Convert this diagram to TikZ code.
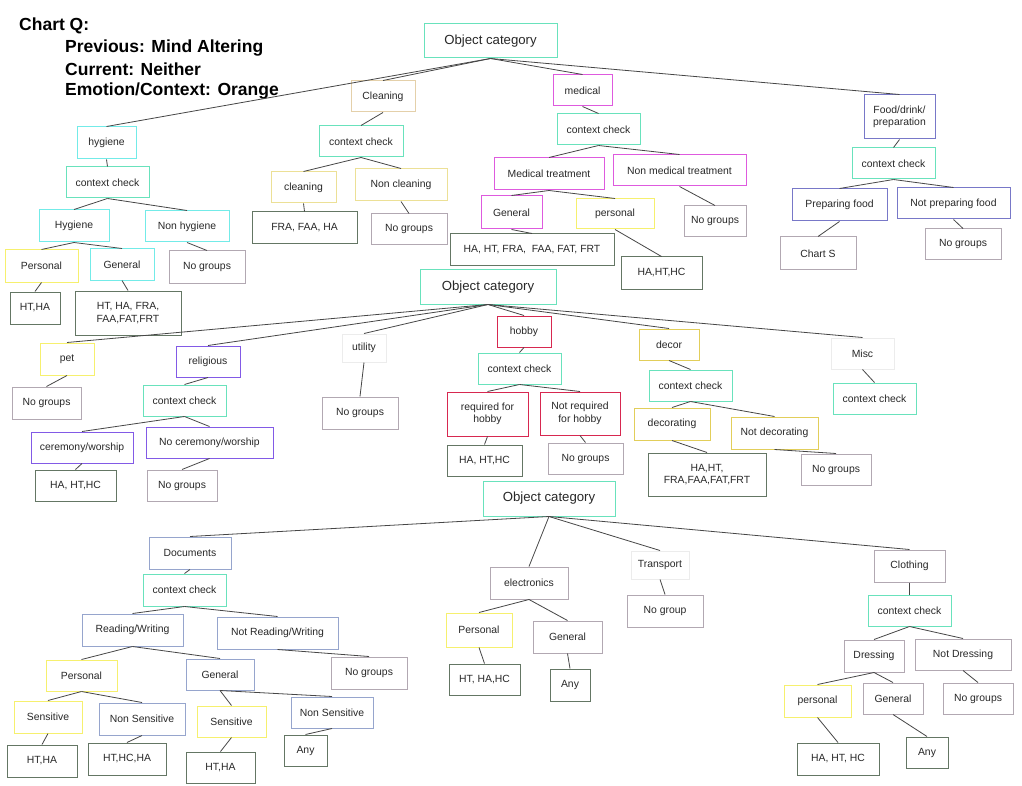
\documentclass[tikz,border=0pt]{standalone}
\usepackage{fontspec}
\setmainfont{Liberation Sans}[BoldFont={Liberation Sans Bold}]
\definecolor{caq}{RGB}{105,226,188}
\definecolor{ccy}{RGB}{115,235,232}
\definecolor{cye}{RGB}{246,240,110}
\definecolor{ctan}{RGB}{228,208,170}
\definecolor{clt}{RGB}{236,224,150}
\definecolor{cmg}{RGB}{222,90,222}
\definecolor{csb}{RGB}{120,120,200}
\definecolor{cgr}{RGB}{178,168,178}
\definecolor{crs}{RGB}{100,118,100}
\definecolor{cpu}{RGB}{130,90,230}
\definecolor{crd}{RGB}{215,40,80}
\definecolor{cgd}{RGB}{226,206,90}
\definecolor{cgb}{RGB}{150,165,205}
\definecolor{cvl}{RGB}{236,236,236}
\definecolor{ctx}{RGB}{40,40,40}
\definecolor{cln}{RGB}{70,70,70}
\newcommand\mybox[7]{\node[bx,#6,minimum width={#4-#2},minimum height={#5-#3}] (#1) at ({(#2+#4)/2},{(#3+#5)/2}) {#7};}
\tikzset{
  bx/.style={draw,line width=1pt,rectangle,inner sep=1pt,align=center,text=ctx,font=\fontsize{10.4}{12.5}\selectfont,fill=white},
  aq/.style={draw=caq},cy/.style={draw=ccy},ye/.style={draw=cye},tn/.style={draw=ctan},
  lt/.style={draw=clt},mg/.style={draw=cmg},sb/.style={draw=csb},gr/.style={draw=cgr},
  rs/.style={draw=crs},pu/.style={draw=cpu},rd/.style={draw=crd},gd/.style={draw=cgd},
  gb/.style={draw=cgb},vl/.style={draw=cvl},
  big/.style={font=\fontsize{13.2}{15}\selectfont},
  edge/.style={draw=cln,line width=0.8pt},
  ttl/.style={anchor=west,inner sep=0pt,font=\bfseries\fontsize{17.5}{20}\selectfont,text=black}
}
\begin{document}
\begin{tikzpicture}[x=1pt,y=-1pt]
\useasboundingbox[fill=white] (0,0) rectangle (1022,786);
% title
\node[ttl] (t0) at (19,26) {Chart Q:};
\node[ttl] (t1) at (65,48) {Previous: Mind Altering};
\node[ttl] (t2) at (65,69) {Current: Neither};
\node[ttl] (t3) at (65,91) {Emotion/Context: Orange};
% ---------- chart 1 ----------
\mybox{oc1}{424}{24}{557}{58}{aq,big}{Object category}
\mybox{hyg}{77}{127}{136}{159}{cy}{hygiene}
\mybox{cc1}{66}{167}{149}{198}{aq}{context check}
\mybox{Hyg}{39}{210}{109}{242}{cy}{Hygiene}
\mybox{nhyg}{145}{211}{229}{242}{cy}{Non hygiene}
\mybox{pers1}{5}{250}{78}{282}{ye}{Personal}
\mybox{gen1}{90}{249}{154}{280}{cy}{General}
\mybox{ng1}{169}{251}{245}{283}{gr}{No groups}
\mybox{r1}{10}{292}{60}{324}{rs}{HT,HA}
\mybox{r2}{75}{291}{181}{335}{rs}{HT, HA, FRA,\\FAA,FAT,FRT}
\mybox{clg}{351}{81}{415}{112}{tn}{Cleaning}
\mybox{cc2}{319}{126}{403}{157}{aq}{context check}
\mybox{clg2}{271}{172}{336}{203}{lt}{cleaning}
\mybox{nclg}{355}{169}{447}{201}{lt}{Non cleaning}
\mybox{r3}{252}{212}{357}{244}{rs}{FRA, FAA, HA}
\mybox{ng2}{371}{214}{447}{245}{gr}{No groups}
\mybox{med}{553}{75}{612}{106}{mg}{medical}
\mybox{cc3}{557}{114}{640}{145}{aq}{context check}
\mybox{mt}{494}{158}{604}{190}{mg}{Medical treatment}
\mybox{nmt}{613}{155}{746}{186}{mg}{Non medical treatment}
\mybox{gen2}{481}{196}{542}{229}{mg}{General}
\mybox{pers2}{576}{199}{654}{229}{ye}{personal}
\mybox{ng3}{684}{206}{746}{237}{gr}{No groups}
\mybox{r4}{450}{234}{614}{266}{rs}{HA, HT, FRA,\ \ FAA, FAT, FRT}
\mybox{r5}{621}{257}{702}{289}{rs}{HA,HT,HC}
\mybox{food}{864}{95}{935}{139}{sb}{Food/drink/\\preparation}
\mybox{cc4}{852}{148}{935}{179}{aq}{context check}
\mybox{pf}{792}{189}{887}{221}{sb}{Preparing food}
\mybox{npf}{897}{188}{1010}{219}{sb}{Not preparing food}
\mybox{chs}{780}{237}{856}{270}{gr}{Chart S}
\mybox{ng4}{925}{229}{1001}{260}{gr}{No groups}
% edges chart 1
\draw[edge] (oc1.south) -- (hyg.north);
\draw[edge] (oc1.south) -- (clg.north);
\draw[edge] (oc1.south) -- (med.north);
\draw[edge] (oc1.south) -- (food.north);
\draw[edge] (hyg.south) -- (cc1.north);
\draw[edge] (cc1.south) -- (Hyg.north);
\draw[edge] (cc1.south) -- (nhyg.north);
\draw[edge] (Hyg.south) -- (pers1.north);
\draw[edge] (Hyg.south) -- (gen1.north);
\draw[edge] (nhyg.south) -- (ng1.north);
\draw[edge] (pers1.south) -- (r1.north);
\draw[edge] (gen1.south) -- (r2.north);
\draw[edge] (clg.south) -- (cc2.north);
\draw[edge] (cc2.south) -- (clg2.north);
\draw[edge] (cc2.south) -- (nclg.north);
\draw[edge] (clg2.south) -- (r3.north);
\draw[edge] (nclg.south) -- (ng2.north);
\draw[edge] (med.south) -- (cc3.north);
\draw[edge] (cc3.south) -- (mt.north);
\draw[edge] (cc3.south) -- (nmt.north);
\draw[edge] (mt.south) -- (gen2.north);
\draw[edge] (mt.south) -- (pers2.north);
\draw[edge] (gen2.south) -- (r4.north);
\draw[edge] (pers2.south) -- (r5.north);
\draw[edge] (nmt.south) -- (ng3.north);
\draw[edge] (food.south) -- (cc4.north);
\draw[edge] (cc4.south) -- (pf.north);
\draw[edge] (cc4.south) -- (npf.north);
\draw[edge] (pf.south) -- (chs.north);
\draw[edge] (npf.south) -- (ng4.north);
% ---------- chart 2 ----------
\mybox{oc2}{420}{270}{556}{304}{aq,big}{Object category}
\mybox{pet}{40}{343}{94}{375}{ye}{pet}
\mybox{ng5}{12}{387}{81}{419}{gr}{No groups}
\mybox{rel}{176}{346}{240}{377}{pu}{religious}
\mybox{cc5}{143}{385}{226}{416}{aq}{context check}
\mybox{cer}{31}{432}{133}{463}{pu}{ceremony/worship}
\mybox{ncer}{146}{427}{273}{458}{pu}{No ceremony/worship}
\mybox{r6}{35}{470}{116}{501}{rs}{HA, HT,HC}
\mybox{ng6}{147}{470}{217}{501}{gr}{No groups}
\mybox{uti}{342}{334}{386}{362}{vl}{utility}
\mybox{ng7}{322}{397}{398}{429}{gr}{No groups}
\mybox{hob}{497}{316}{551}{347}{rd}{hobby}
\mybox{cc6}{478}{353}{561}{384}{aq}{context check}
\mybox{req}{447}{392}{528}{436}{rd}{required for\\hobby}
\mybox{nreq}{540}{392}{620}{435}{rd}{Not required\\for hobby}
\mybox{r7}{447}{445}{522}{476}{rs}{HA, HT,HC}
\mybox{ng8}{548}{443}{623}{474}{gr}{No groups}
\mybox{dec}{639}{329}{699}{360}{gd}{decor}
\mybox{cc7}{649}{370}{732}{401}{aq}{context check}
\mybox{deco}{634}{408}{710}{440}{gd}{decorating}
\mybox{ndeco}{731}{417}{818}{449}{gd}{Not decorating}
\mybox{r8}{648}{453}{766}{496}{rs}{HA,HT,\\FRA,FAA,FAT,FRT}
\mybox{ng9}{801}{454}{871}{485}{gr}{No groups}
\mybox{misc}{831}{338}{894}{369}{vl}{Misc}
\mybox{cc8}{833}{383}{916}{414}{aq}{context check}
% edges chart 2
\draw[edge] (oc2.south) -- (pet.north);
\draw[edge] (oc2.south) -- (rel.north);
\draw[edge] (oc2.south) -- (uti.north);
\draw[edge] (oc2.south) -- (hob.north);
\draw[edge] (oc2.south) -- (dec.north);
\draw[edge] (oc2.south) -- (misc.north);
\draw[edge] (pet.south) -- (ng5.north);
\draw[edge] (rel.south) -- (cc5.north);
\draw[edge] (cc5.south) -- (cer.north);
\draw[edge] (cc5.south) -- (ncer.north);
\draw[edge] (cer.south) -- (r6.north);
\draw[edge] (ncer.south) -- (ng6.north);
\draw[edge] (uti.south) -- (ng7.north);
\draw[edge] (hob.south) -- (cc6.north);
\draw[edge] (cc6.south) -- (req.north);
\draw[edge] (cc6.south) -- (nreq.north);
\draw[edge] (req.south) -- (r7.north);
\draw[edge] (nreq.south) -- (ng8.north);
\draw[edge] (dec.south) -- (cc7.north);
\draw[edge] (cc7.south) -- (deco.north);
\draw[edge] (cc7.south) -- (ndeco.north);
\draw[edge] (deco.south) -- (r8.north);
\draw[edge] (ndeco.south) -- (ng9.north);
\draw[edge] (misc.south) -- (cc8.north);
% ---------- chart 3 ----------
\mybox{oc3}{483}{481}{615}{516}{aq,big}{Object category}
\mybox{doc}{149}{537}{231}{569}{gb}{Documents}
\mybox{cc9}{143}{574}{226}{606}{aq}{context check}
\mybox{rw}{82}{614}{183}{646}{gb}{Reading/Writing}
\mybox{nrw}{217}{617}{338}{649}{gb}{Not Reading/Writing}
\mybox{pers3}{46}{660}{117}{691}{ye}{Personal}
\mybox{gen3}{186}{659}{254}{690}{gb}{General}
\mybox{ng10}{331}{657}{407}{689}{gr}{No groups}
\mybox{sen1}{14}{701}{82}{733}{ye}{Sensitive}
\mybox{nsen1}{99}{703}{185}{735}{gb}{Non Sensitive}
\mybox{sen2}{197}{706}{266}{737}{ye}{Sensitive}
\mybox{nsen2}{291}{697}{373}{728}{gb}{Non Sensitive}
\mybox{r9}{7}{745}{77}{777}{rs}{HT,HA}
\mybox{r10}{88}{743}{166}{775}{rs}{HT,HC,HA}
\mybox{r11}{186}{752}{255}{783}{rs}{HT,HA}
\mybox{r12}{284}{735}{327}{766}{rs}{Any}
\mybox{ele}{490}{567}{568}{599}{gr}{electronics}
\mybox{pers4}{446}{613}{512}{647}{ye}{Personal}
\mybox{gen4}{533}{621}{602}{653}{gr}{General}
\mybox{r13}{449}{664}{520}{695}{rs}{HT, HA,HC}
\mybox{r14}{550}{669}{590}{701}{rs}{Any}
\mybox{tra}{631}{551}{689}{579}{vl}{Transport}
\mybox{ng11}{627}{595}{703}{627}{gr}{No group}
\mybox{clo}{874}{550}{945}{582}{gr}{Clothing}
\mybox{cc10}{868}{595}{951}{626}{aq}{context check}
\mybox{drs}{844}{640}{904}{672}{gr}{Dressing}
\mybox{ndrs}{915}{639}{1011}{670}{gr}{Not Dressing}
\mybox{pers5}{784}{685}{851}{717}{ye}{personal}
\mybox{gen5}{863}{683}{923}{714}{gr}{General}
\mybox{ng12}{943}{683}{1013}{714}{gr}{No groups}
\mybox{r15}{797}{743}{879}{775}{rs}{HA, HT, HC}
\mybox{r16}{906}{737}{948}{768}{rs}{Any}
% edges chart 3
\draw[edge] (oc3.south) -- (doc.north);
\draw[edge] (oc3.south) -- (ele.north);
\draw[edge] (oc3.south) -- (tra.north);
\draw[edge] (oc3.south) -- (clo.north);
\draw[edge] (doc.south) -- (cc9.north);
\draw[edge] (cc9.south) -- (rw.north);
\draw[edge] (cc9.south) -- (nrw.north);
\draw[edge] (rw.south) -- (pers3.north);
\draw[edge] (rw.south) -- (gen3.north);
\draw[edge] (nrw.south) -- (ng10.north);
\draw[edge] (pers3.south) -- (sen1.north);
\draw[edge] (pers3.south) -- (nsen1.north);
\draw[edge] (gen3.south) -- (sen2.north);
\draw[edge] (gen3.south) -- (nsen2.north);
\draw[edge] (sen1.south) -- (r9.north);
\draw[edge] (nsen1.south) -- (r10.north);
\draw[edge] (sen2.south) -- (r11.north);
\draw[edge] (nsen2.south) -- (r12.north);
\draw[edge] (ele.south) -- (pers4.north);
\draw[edge] (ele.south) -- (gen4.north);
\draw[edge] (pers4.south) -- (r13.north);
\draw[edge] (gen4.south) -- (r14.north);
\draw[edge] (tra.south) -- (ng11.north);
\draw[edge] (clo.south) -- (cc10.north);
\draw[edge] (cc10.south) -- (drs.north);
\draw[edge] (cc10.south) -- (ndrs.north);
\draw[edge] (drs.south) -- (pers5.north);
\draw[edge] (drs.south) -- (gen5.north);
\draw[edge] (pers5.south) -- (r15.north);
\draw[edge] (gen5.south) -- (r16.north);
\draw[edge] (ndrs.south) -- (ng12.north);
\end{tikzpicture}
\end{document}
